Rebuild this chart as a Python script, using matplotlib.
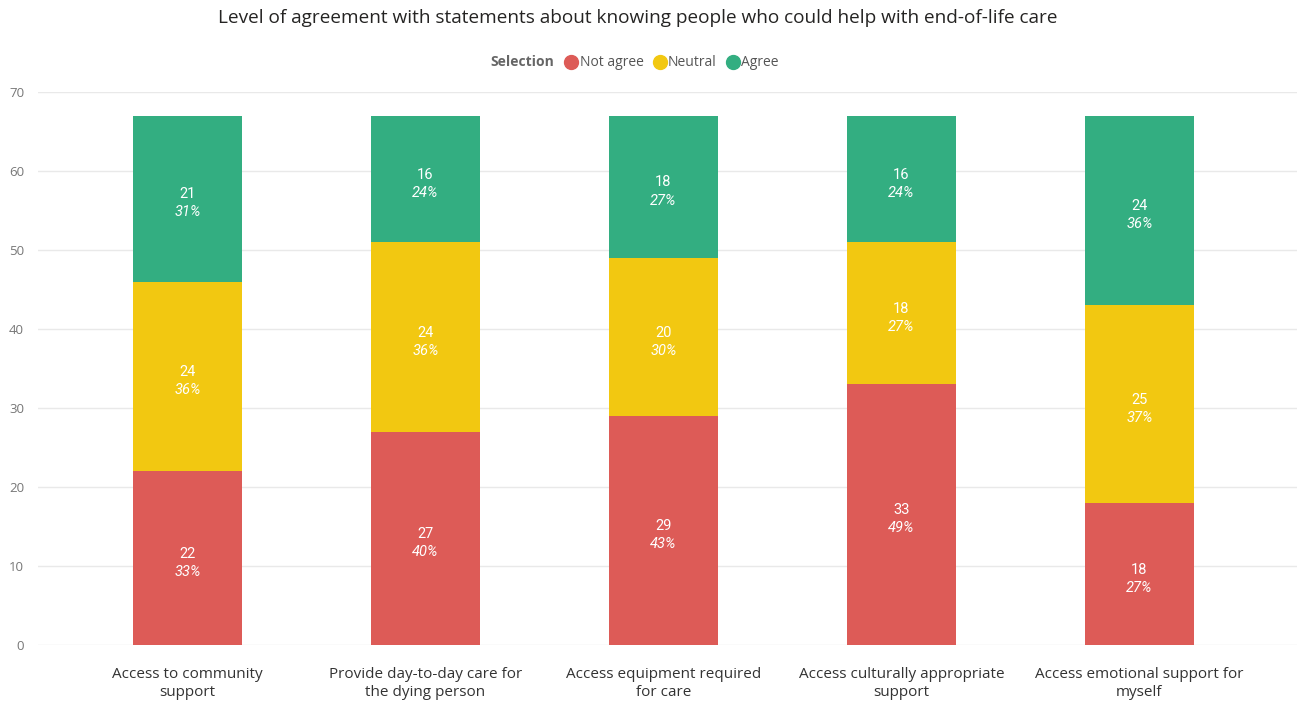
import numpy as np
import matplotlib.pyplot as plt
from matplotlib.lines import Line2D

categories = [
    "Access to community\nsupport",
    "Provide day-to-day care for\nthe dying person",
    "Access equipment required\nfor care",
    "Access culturally appropriate\nsupport",
    "Access emotional support for\nmyself",
]
not_agree = [22, 27, 29, 33, 18]
neutral = [24, 24, 20, 18, 25]
agree = [21, 16, 18, 16, 24]

series = [("Not agree", not_agree, "#DD5B57"),
          ("Neutral", neutral, "#F2C811"),
          ("Agree", agree, "#33AE81")]

plt.rcParams['font.family'] = ['Open Sans', 'DejaVu Sans']

fig = plt.figure(figsize=(13.03, 7.01), dpi=100)
ax = fig.add_axes([38 / 1303, 56 / 701, 1259 / 1303, 553 / 701])

x = np.arange(len(categories))
totals = np.sum([not_agree, neutral, agree], axis=0)
bottom = np.zeros(len(categories))
for name, vals, col in series:
    vals = np.array(vals, dtype=float)
    ax.bar(x, vals, width=0.458, bottom=bottom, color=col, zorder=2)
    for xi, b, v, t in zip(x, bottom, vals, totals):
        yc = b + v / 2
        ax.annotate(f"{int(v)}", (xi, yc), xytext=(0, 3.1), textcoords="offset points",
                    ha="center", va="center", color="white", fontsize=10.5,
                    family="Roboto")
        ax.annotate(f"{round(100 * v / t)}%", (xi, yc), xytext=(0, -9.9),
                    textcoords="offset points", ha="center", va="center",
                    color="white", fontsize=10.5, style="italic", family="Roboto")
    bottom += vals

ax.set_xlim(-0.628, 4.662)
ax.set_ylim(0, 70)
ax.set_yticks(range(0, 71, 10))
ax.yaxis.grid(True, color="#e9e9e9", lw=1, zorder=0)
ax.set_axisbelow(True)
for s in ax.spines.values():
    s.set_visible(False)
ax.tick_params(axis="y", length=0, pad=10, labelsize=9.5, labelcolor="#777777")
ax.tick_params(axis="x", length=0, pad=15.5, labelsize=11, labelcolor="#333333")
ax.set_xticks(x)
ax.set_xticklabels(categories, linespacing=1.3)

fig.text(638 / 1303, 1 - 18 / 701, "Level of agreement with statements about knowing people who could help with end-of-life care",
         ha="center", va="center", fontsize=13.7, color="#252423")

fig.text(554 / 1303, 1 - 62 / 701, "Selection", ha="right", va="center",
         fontsize=10, fontweight="bold", color="#666666")
handles = [Line2D([], [], marker="o", ls="", markersize=10, color=c, label=n)
           for n, _, c in series]
fig.legend(handles=handles, loc="center left", bbox_to_anchor=(563 / 1303, 1 - 63 / 701),
           ncol=3, frameon=False, handletextpad=0.0, columnspacing=0.55,
           fontsize=10, labelcolor="#555555", handlelength=1.2, borderaxespad=0,
           borderpad=0)

fig.savefig("out.png", dpi=100)
